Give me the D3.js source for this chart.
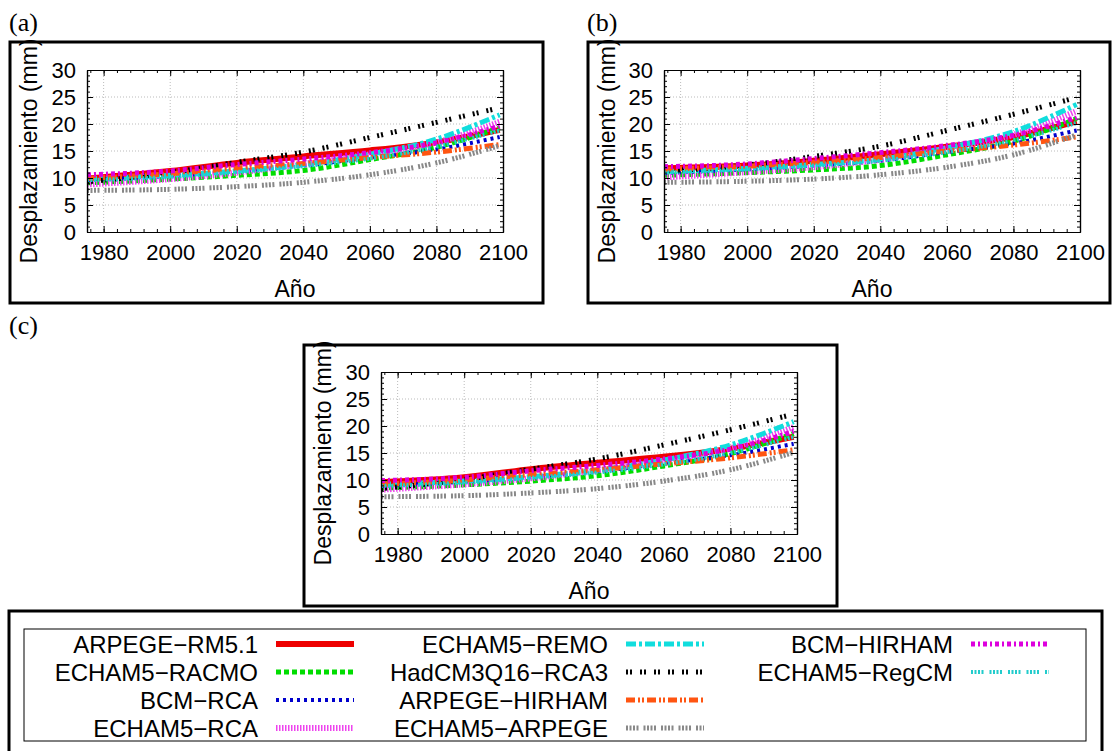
<!DOCTYPE html>
<html>
<head>
<meta charset="utf-8">
<script src="https://cdn.jsdelivr.net/npm/d3@7"></script>
<style>
  body { margin: 0; background: #fff; }
  text { font-family: "Liberation Sans", Arial, sans-serif; fill: #000; }
</style>
</head>
<body>
<svg id="chart" width="1113" height="751"></svg>
<script>
// years sampled along each projection curve
const years = [1975, 2000, 2020, 2040, 2060, 2080, 2099];

// model names, in legend order
const models = ["ARPEGE\u2212RM5.1", "ECHAM5\u2212RACMO", "BCM\u2212RCA", "ECHAM5\u2212RCA",
  "ECHAM5\u2212REMO", "HadCM3Q16\u2212RCA3", "ARPEGE\u2212HIRHAM", "ECHAM5\u2212ARPEGE",
  "BCM\u2212HIRHAM", "ECHAM5\u2212RegCM"];

// displacement (mm), one row per model, panel (a)
const valuesA = [
  [9.9, 11.3, 12.8, 14.0, 15.1, 16.6, 18.9],
  [9.1, 9.8, 10.5, 11.4, 13.4, 15.7, 19.3],
  [9.6, 10.4, 11.3, 12.3, 13.8, 15.3, 17.6],
  [8.8, 9.8, 11.0, 12.6, 14.4, 16.6, 20.4],
  [9.9, 10.5, 11.3, 12.5, 14.4, 17.2, 21.7],
  [9.3, 11.0, 12.9, 14.8, 17.5, 20.3, 23.0],
  [9.9, 10.8, 11.8, 12.7, 13.8, 14.8, 16.2],
  [7.7, 7.9, 8.4, 9.2, 10.6, 12.8, 16.0],
  [10.6, 11.3, 12.5, 13.5, 14.7, 16.5, 19.6],
  [9.6, 10.2, 11.1, 12.2, 13.6, 15.8, 18.8]
];

// panel (b)
const valuesB = [
  [11.8, 12.3, 13.2, 14.4, 15.8, 17.6, 20.5],
  [10.5, 11.0, 11.5, 12.3, 14.3, 16.8, 21.0],
  [10.9, 11.6, 12.3, 13.2, 14.8, 16.4, 18.8],
  [10.1, 11.1, 12.0, 13.4, 15.5, 18.0, 22.4],
  [11.2, 11.8, 12.5, 13.5, 15.6, 18.6, 23.6],
  [11.3, 12.4, 14.0, 15.9, 18.8, 21.8, 24.9],
  [11.6, 12.2, 12.9, 13.8, 15.0, 16.1, 17.6],
  [9.2, 9.4, 9.8, 10.6, 12.0, 14.3, 18.0],
  [12.1, 12.6, 13.6, 14.7, 16.0, 17.9, 21.2],
  [11.0, 11.6, 12.3, 13.2, 14.8, 17.0, 20.2]
];

// panel (c)
const valuesC = [
  [9.6, 10.5, 12.0, 13.2, 14.3, 15.8, 18.0],
  [8.5, 9.1, 9.8, 10.8, 12.6, 14.9, 18.6],
  [8.9, 9.7, 10.6, 11.6, 13.1, 14.6, 16.7],
  [8.2, 9.2, 10.3, 11.8, 13.6, 15.9, 19.8],
  [9.2, 9.8, 10.6, 11.8, 13.7, 16.5, 20.8],
  [8.4, 10.1, 12.0, 13.9, 16.5, 19.3, 22.2],
  [9.2, 10.0, 11.0, 11.9, 13.0, 14.1, 15.6],
  [6.9, 7.1, 7.6, 8.4, 9.8, 11.9, 15.1],
  [9.9, 10.5, 11.7, 12.7, 13.9, 15.7, 19.0],
  [8.9, 9.5, 10.4, 11.4, 12.9, 15.0, 18.0]
];

const xTicks = [1980, 2000, 2020, 2040, 2060, 2080, 2100];
const yTicks = [0, 5, 10, 15, 20, 25, 30];

// line look of each model (same order as models)
const lineStyles = [
  { color: "#ee0000", width: 6, dash: null },
  { color: "#00dd00", width: 5, dash: "5,3" },
  { color: "#0000cc", width: 4, dash: "3,4" },
  { color: "#ee44ee", width: 6, dash: "1.5,1.5" },
  { color: "#11dddd", width: 5, dash: "10,3,3,3" },
  { color: "#000000", width: 5, dash: "2,2,2,8" },
  { color: "#ff5511", width: 5, dash: "9,3,2,2,2,3" },
  { color: "#888888", width: 5, dash: "2,1.5,2,1.5,2,1.5,2,5" },
  { color: "#dd00dd", width: 5, dash: "4,3,2,3" },
  { color: "#22cccc", width: 4, dash: "2,1.5,2,1.5,2,1.5,2,6" }
];

const svg = d3.select("#chart");

function drawPanel(tag, box, plot, values, id) {
  const g = svg.append("g");

  g.append("rect")
    .attr("x", box.x).attr("y", box.y)
    .attr("width", box.w).attr("height", box.h)
    .attr("fill", "none").attr("stroke", "#000").attr("stroke-width", 3);

  g.append("text")
    .attr("x", tag.x).attr("y", tag.y)
    .style("font-family", "'Liberation Serif', serif")
    .style("font-size", "26px")
    .text(tag.text);

  const x = d3.scaleLinear().domain([1975, 2100]).range([plot.x0, plot.x1]);
  const y = d3.scaleLinear().domain([0, 30]).range([plot.y1, plot.y0]);

  // dotted grid
  g.append("g").selectAll("line").data(xTicks.filter(d => d < 2100)).enter().append("line")
    .attr("x1", d => x(d)).attr("x2", d => x(d))
    .attr("y1", plot.y0).attr("y2", plot.y1)
    .attr("stroke", "#bbb").attr("stroke-width", 1).attr("stroke-dasharray", "1,2");
  g.append("g").selectAll("line").data(yTicks.filter(d => d > 0 && d < 30)).enter().append("line")
    .attr("x1", plot.x0).attr("x2", plot.x1)
    .attr("y1", d => y(d)).attr("y2", d => y(d))
    .attr("stroke", "#bbb").attr("stroke-width", 1).attr("stroke-dasharray", "1,2");

  // curves
  g.append("clipPath").attr("id", "clip" + id).append("rect")
    .attr("x", plot.x0).attr("y", plot.y0)
    .attr("width", plot.x1 - plot.x0).attr("height", plot.y1 - plot.y0);

  const line = d3.line()
    .x((d, i) => x(years[i]))
    .y(d => y(d))
    .curve(d3.curveMonotoneX);

  g.append("g").attr("clip-path", `url(#clip${id})`)
    .selectAll("path").data(values).enter().append("path")
    .attr("d", d => line(d))
    .attr("fill", "none")
    .attr("stroke", (d, i) => lineStyles[i].color)
    .attr("stroke-width", (d, i) => lineStyles[i].width)
    .attr("stroke-dasharray", (d, i) => lineStyles[i].dash);

  // axes, ticks pointing inward, mirrored on top and right
  const minorX = d3.range(1976, 2100, 4);
  const minorY = d3.range(0, 31, 1);

  const bottom = g.append("g").attr("transform", `translate(0,${plot.y1})`)
    .call(d3.axisBottom(x).tickValues(xTicks).tickFormat(d3.format("d"))
      .tickSizeInner(-6).tickSizeOuter(0).tickPadding(12));
  g.append("g").attr("transform", `translate(0,${plot.y1})`)
    .call(d3.axisBottom(x).tickValues(minorX).tickFormat("").tickSizeInner(-3).tickSizeOuter(0));
  g.append("g").attr("transform", `translate(0,${plot.y0})`)
    .call(d3.axisTop(x).tickValues(xTicks).tickFormat("").tickSizeInner(-6).tickSizeOuter(0));
  g.append("g").attr("transform", `translate(0,${plot.y0})`)
    .call(d3.axisTop(x).tickValues(minorX).tickFormat("").tickSizeInner(-3).tickSizeOuter(0));

  const left = g.append("g").attr("transform", `translate(${plot.x0},0)`)
    .call(d3.axisLeft(y).tickValues(yTicks).tickSizeInner(-6).tickSizeOuter(0).tickPadding(11));
  g.append("g").attr("transform", `translate(${plot.x0},0)`)
    .call(d3.axisLeft(y).tickValues(minorY).tickFormat("").tickSizeInner(-3).tickSizeOuter(0));
  g.append("g").attr("transform", `translate(${plot.x1},0)`)
    .call(d3.axisRight(y).tickValues(yTicks).tickFormat("").tickSizeInner(-6).tickSizeOuter(0));
  g.append("g").attr("transform", `translate(${plot.x1},0)`)
    .call(d3.axisRight(y).tickValues(minorY).tickFormat("").tickSizeInner(-3).tickSizeOuter(0));

  g.selectAll(".domain").attr("stroke", "#000").attr("stroke-width", 1.2);
  g.selectAll(".tick line").attr("stroke", "#000");
  bottom.selectAll("text").style("font-size", "22px").style("font-family", "'Liberation Sans', Arial, sans-serif");
  left.selectAll("text").style("font-size", "22px").style("font-family", "'Liberation Sans', Arial, sans-serif");

  g.append("text")
    .attr("x", (plot.x0 + plot.x1) / 2).attr("y", plot.y1 + 65)
    .attr("text-anchor", "middle").style("font-size", "23px")
    .text("A\u00f1o");

  g.append("text")
    .attr("transform", `translate(${box.x + 27},${(plot.y0 + plot.y1) / 2}) rotate(-90)`)
    .attr("text-anchor", "middle").style("font-size", "23px")
    .text("Desplazamiento (mm)");
}

drawPanel({ x: 9, y: 31, text: "(a)" }, { x: 10, y: 42, w: 533, h: 261 },
  { x0: 87, x1: 503, y0: 70, y1: 232 }, valuesA, "a");
drawPanel({ x: 587, y: 31, text: "(b)" }, { x: 588, y: 42, w: 522, h: 261 },
  { x0: 664, x1: 1080, y0: 70, y1: 232 }, valuesB, "b");
drawPanel({ x: 9, y: 334, text: "(c)" }, { x: 304, y: 345, w: 533, h: 261 },
  { x0: 381, x1: 797, y0: 372, y1: 534 }, valuesC, "c");

// legend
const legend = svg.append("g");
legend.append("rect").attr("x", 9).attr("y", 611).attr("width", 1093).attr("height", 150)
  .attr("fill", "none").attr("stroke", "#000").attr("stroke-width", 3);
legend.append("rect").attr("x", 24).attr("y", 629).attr("width", 1062).attr("height", 112)
  .attr("fill", "none").attr("stroke", "#000").attr("stroke-width", 1);

const colText = [258, 608, 953];
const rowY = [644, 672, 700, 728];

const items = legend.selectAll(".legend-entry").data(models).enter().append("g")
  .attr("class", "legend-entry")
  .attr("transform", (d, i) => `translate(${colText[Math.floor(i / 4)]},${rowY[i % 4]})`);

items.append("text")
  .attr("text-anchor", "end").attr("dy", "0.36em")
  .style("font-size", "24px")
  .text(d => d);

items.append("line")
  .attr("x1", 18).attr("x2", 96).attr("y1", 0).attr("y2", 0)
  .attr("stroke", (d, i) => lineStyles[i].color)
  .attr("stroke-width", (d, i) => lineStyles[i].width)
  .attr("stroke-dasharray", (d, i) => lineStyles[i].dash);
</script>
</body>
</html>
